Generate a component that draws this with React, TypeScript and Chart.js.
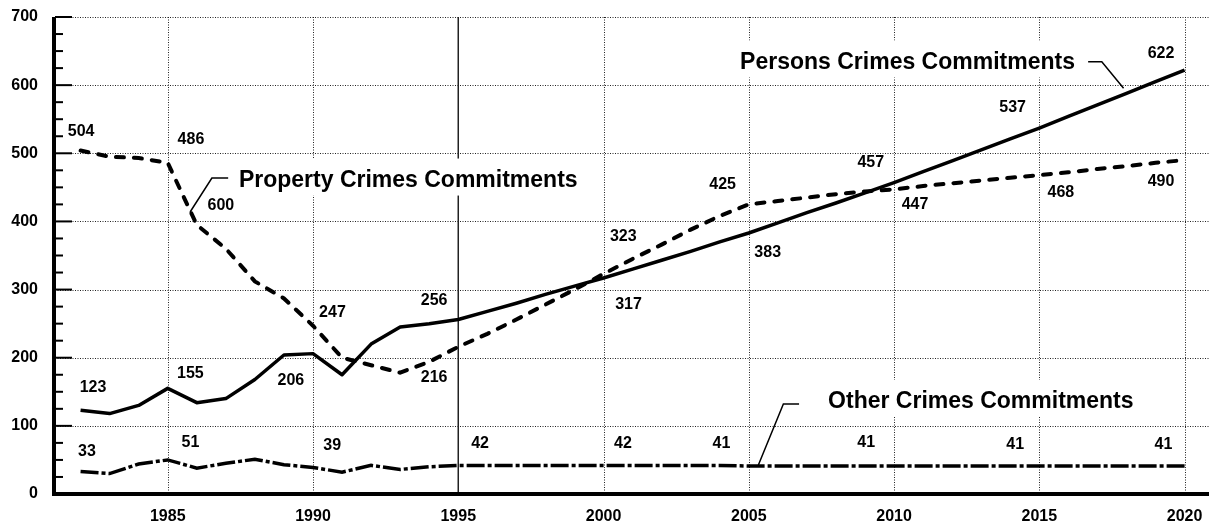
import { useEffect, useRef } from 'react';
import { Chart, registerables } from 'chart.js';

Chart.register(...registerables);

const years = [1982, 1983, 1984, 1985, 1986, 1987, 1988, 1989, 1990, 1991, 1992, 1993, 1994, 1995, 1996, 1997, 1998, 1999, 2000, 2001, 2002, 2003, 2004, 2005, 2006, 2007, 2008, 2009, 2010, 2011, 2012, 2013, 2014, 2015, 2016, 2017, 2018, 2019, 2020];
const personsCrimes = [123, 118, 130, 155, 134, 140, 168, 204, 206, 175, 220, 245, 250, 256, 268, 280, 293, 305, 317, 330, 343, 356, 370, 383, 398, 413, 427, 442, 457, 473, 489, 505, 521, 537, 554, 571, 588, 605, 622];
const propertyCrimes = [504, 495, 493, 486, 395, 360, 312, 287, 247, 200, 189, 178, 194, 216, 235, 256, 278, 300, 323, 345, 366, 388, 408, 425, 430, 435, 440, 444, 447, 452, 456, 460, 464, 468, 472, 477, 481, 486, 490];
const otherCrimes = [33, 30, 44, 50, 38, 45, 51, 43, 39, 32, 42, 36, 40, 42, 42, 42, 42, 42, 42, 42, 42, 42, 42, 41, 41, 41, 41, 41, 41, 41, 41, 41, 41, 41, 41, 41, 41, 41, 41];

const yTicks = [0, 100, 200, 300, 400, 500, 600, 700];
const yMinorStep = 25;
const xTicks = [1985, 1990, 1995, 2000, 2005, 2010, 2015, 2020];
const solidYear = 1995;
const xMin = 1981.12;
const xMax = 2020.84;

// value labels: text, anchor year, anchor value (text centre)
const valueLabels: [string, number, number][] = [
  ['504', 1982.02, 531.2], ['486', 1985.8, 519.5], ['600', 1986.83, 422.6],
  ['123', 1982.43, 155.6], ['155', 1985.78, 176.8], ['206', 1989.24, 165.8],
  ['33', 1982.22, 61.6], ['51', 1985.78, 75.6], ['39', 1990.66, 70.4],
  ['247', 1990.67, 266.3], ['256', 1994.17, 283.2], ['216', 1994.17, 171.0],
  ['42', 1995.75, 73.4], ['42', 2000.67, 73.4], ['41', 2004.06, 73.4],
  ['41', 2009.04, 74.8], ['41', 2014.17, 71.9], ['41', 2019.27, 71.9],
  ['323', 2000.68, 377.1], ['317', 2000.86, 277.4], ['425', 2004.1, 453.5],
  ['383', 2005.65, 354.4], ['457', 2009.2, 486.5], ['447', 2010.72, 424.1],
  ['537', 2014.08, 567.2], ['468', 2015.74, 441.7], ['622', 2019.19, 646.4],
  ['490', 2019.19, 458.6],
];

// series labels: text, left year, value (cap centre)
const seriesLabels: [string, number, number][] = [
  ['Property Crimes Commitments', 1987.45, 460],
  ['Persons Crimes Commitments', 2004.7, 633.2],
  ['Other Crimes Commitments', 2007.73, 135],
];

// leader lines: polyline points [year, value]
const leaders: [number, number][][] = [
  [[1985.77, 413.8], [1986.52, 463.7], [1987.08, 463.7]],
  [[2016.68, 634.4], [2017.15, 634.4], [2017.9, 595.4]],
  [[2005.33, 42.6], [2006.19, 132.1], [2006.73, 132.1]],
];

const FONT = '"Liberation Sans", Arial, Helvetica, sans-serif';

const decorPlugin = {
  id: 'decor',
  beforeDatasetsDraw(chart: any) {
    const { ctx, chartArea, scales } = chart;
    const xs = scales.x;
    const ys = scales.y;
    const { left, right, top, bottom } = chartArea;
    ctx.save();
    // dotted grid
    ctx.strokeStyle = '#222';
    ctx.lineWidth = 1;
    ctx.setLineDash([1, 1.5]);
    yTicks.forEach((v) => {
      if (v === 0) return;
      const y = Math.round(ys.getPixelForValue(v)) + 0.5;
      ctx.beginPath();
      ctx.moveTo(left, y);
      ctx.lineTo(right, y);
      ctx.stroke();
    });
    xTicks.forEach((v) => {
      if (v === solidYear) return;
      const x = Math.round(xs.getPixelForValue(v)) + 0.5;
      ctx.beginPath();
      ctx.moveTo(x, top);
      ctx.lineTo(x, bottom);
      ctx.stroke();
    });
    ctx.setLineDash([]);
    ctx.lineWidth = 1.5;
    const sx = xs.getPixelForValue(solidYear);
    ctx.beginPath();
    ctx.moveTo(sx, top);
    ctx.lineTo(sx, bottom);
    ctx.stroke();
    // series labels with white boxes
    ctx.font = `bold 23px ${FONT}`;
    ctx.textAlign = 'left';
    ctx.textBaseline = 'middle';
    seriesLabels.forEach(([t, yr, v]) => {
      const x = xs.getPixelForValue(yr);
      const y = ys.getPixelForValue(v);
      const w = ctx.measureText(t).width;
      ctx.fillStyle = '#fff';
      ctx.fillRect(x - 6, y - 22, w + 12, 37);
      ctx.fillStyle = '#000';
      ctx.fillText(t, x, y);
    });
    ctx.restore();
  },
  afterDatasetsDraw(chart: any) {
    const { ctx, chartArea, scales } = chart;
    const xs = scales.x;
    const ys = scales.y;
    const { left, right, top, bottom } = chartArea;
    ctx.save();
    // leader lines
    ctx.strokeStyle = '#000';
    ctx.lineWidth = 1.5;
    leaders.forEach((pts) => {
      ctx.beginPath();
      pts.forEach(([yr, v], i) => {
        const x = xs.getPixelForValue(yr);
        const y = ys.getPixelForValue(v);
        if (i === 0) ctx.moveTo(x, y);
        else ctx.lineTo(x, y);
      });
      ctx.stroke();
    });
    // value labels
    ctx.fillStyle = '#000';
    ctx.font = `bold 16px ${FONT}`;
    ctx.textAlign = 'center';
    ctx.textBaseline = 'middle';
    valueLabels.forEach(([t, yr, v]) => {
      ctx.fillText(t, xs.getPixelForValue(yr), ys.getPixelForValue(v));
    });
    // axes
    ctx.strokeStyle = '#000';
    ctx.lineWidth = 4;
    ctx.beginPath();
    ctx.moveTo(left - 1, top);
    ctx.lineTo(left - 1, bottom + 2);
    ctx.stroke();
    ctx.beginPath();
    ctx.moveTo(left - 3, bottom);
    ctx.lineTo(right, bottom);
    ctx.stroke();
    // ticks
    ctx.lineWidth = 2;
    for (let v = 0; v <= 700; v += yMinorStep) {
      const y = ys.getPixelForValue(v);
      const major = v % 100 === 0;
      ctx.beginPath();
      ctx.moveTo(left, y);
      ctx.lineTo(left + (major ? 17 : 8), y);
      ctx.stroke();
    }
    ctx.restore();
  },
};

export default function App() {
  const ref = useRef<HTMLCanvasElement | null>(null);
  useEffect(() => {
    if (!ref.current) return;
    document.body.style.margin = '0';
    const toPts = (arr: number[]) => arr.map((v, i) => ({ x: years[i], y: v }));
    const chart = new Chart(ref.current, {
      type: 'line',
      data: {
        datasets: [
          {
            label: 'Persons Crimes Commitments',
            data: toPts(personsCrimes),
            borderColor: '#000',
            borderWidth: 3.5,
            borderJoinStyle: 'round',
            pointRadius: 0,
            tension: 0,
          },
          {
            label: 'Property Crimes Commitments',
            data: toPts(propertyCrimes),
            borderColor: '#000',
            borderWidth: 4,
            borderDash: [8, 10],
            borderCapStyle: 'round',
            pointRadius: 0,
            tension: 0,
          },
          {
            label: 'Other Crimes Commitments',
            data: toPts(otherCrimes),
            borderColor: '#000',
            borderWidth: 3.5,
            borderDash: [18, 3, 4, 3],
            borderCapStyle: 'butt',
            pointRadius: 0,
            tension: 0,
          },
        ],
      },
      options: {
        animation: false,
        responsive: true,
        maintainAspectRatio: false,
        layout: { padding: { top: 17, left: 0, right: 0, bottom: 0 } },
        plugins: { legend: { display: false }, tooltip: { enabled: false } },
        scales: {
          x: {
            type: 'linear',
            min: xMin,
            max: xMax,
            grid: { display: false, drawTicks: false },
            border: { display: false },
            ticks: {
              padding: 13,
              color: '#000',
              font: { family: FONT, size: 16, weight: 'bold' },
              maxRotation: 0,
              autoSkip: false,
              callback: (v: any) => String(v),
            },
            afterBuildTicks: (s: any) => {
              s.ticks = xTicks.map((v) => ({ value: v }));
            },
            afterFit: (s: any) => {
              s.height = 31;
              s.paddingLeft = 0;
              s.paddingRight = 0;
            },
          },
          y: {
            min: 0,
            max: 700,
            grid: { display: false, drawTicks: false },
            border: { display: false },
            ticks: {
              padding: 17,
              color: '#000',
              font: { family: FONT, size: 16, weight: 'bold' },
              autoSkip: false,
            },
            afterBuildTicks: (s: any) => {
              s.ticks = yTicks.map((v) => ({ value: v }));
            },
            afterFit: (s: any) => {
              s.width = 55;
              s.paddingTop = 0;
              s.paddingBottom = 0;
            },
          },
        },
      },
      plugins: [decorPlugin],
    } as any);
    return () => chart.destroy();
  }, []);
  return (
    <div style={{ position: 'fixed', left: 0, top: 0, width: 1209, height: 525, background: '#fff' }}>
      <canvas ref={ref} />
    </div>
  );
}
